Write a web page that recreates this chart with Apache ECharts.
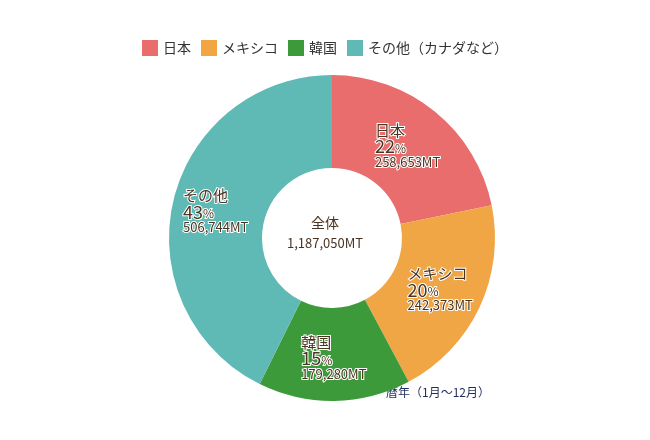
<!DOCTYPE html>
<html>
<head>
<meta charset="utf-8">
<script src="https://cdn.jsdelivr.net/npm/echarts@6/dist/echarts.min.js"></script>
<style>html,body{margin:0;background:#fff}#chart{width:650px;height:440px}</style>
</head>
<body>
<div id="chart"></div>
<script>
const names = ["日本", "メキシコ", "韓国", "その他（カナダなど）"];
const shortNames = ["日本", "メキシコ", "韓国", "その他"];
const values = [258653, 242373, 179280, 506744];
const percents = [22, 20, 15, 43];
const totalLabel = "1,187,050MT";
const colors = ["#e96d6d", "#f0a645", "#3d9a3b", "#5fb9b5"];
const ink = "#4a3522";

const chart = echarts.init(document.getElementById("chart"));
const fmt = (v) => v.toLocaleString("en-US") + "MT";

chart.setOption({
  color: colors,
  textStyle: { fontFamily: "Noto Sans CJK JP" },
  legend: {
    top: 35,
    left: "center",
    icon: "rect",
    itemWidth: 16,
    itemHeight: 16,
    itemGap: 10,
    textStyle: { color: "#333", fontSize: 14 },
    data: names,
  },
  graphic: [
    {
      type: "text", left: "center", top: 216,
      style: { text: "全体", fill: ink, fontSize: 14, fontFamily: "Noto Sans CJK JP" },
    },
    {
      type: "text", left: "center", top: 237,
      style: { text: totalLabel, fill: ink, fontSize: 13, fontFamily: "Noto Sans CJK JP" },
    },
    {
      type: "text", left: 386, top: 386,
      style: { text: "暦年（1月～12月）", fill: "#1f2d5c", fontSize: 12, fontFamily: "Noto Sans CJK JP" },
    },
  ],
  series: [
    {
      type: "pie",
      center: [332, 238],
      radius: [70, 163],
      startAngle: 90,
      clockwise: true,
      silent: true,
      label: {
        position: "inside",
        formatter: (p) =>
          `{n|${shortNames[p.dataIndex]}}\n{p|${percents[p.dataIndex]}}{s|%}\n{v|${fmt(p.value)}}`,
        rich: {
          n: { fontSize: 15, color: ink, align: "left", textBorderColor: "#fff", textBorderWidth: 2 },
          p: { fontSize: 18, color: ink, align: "left", textBorderColor: "#fff", textBorderWidth: 2 },
          s: { fontSize: 12, color: ink, align: "left", textBorderColor: "#fff", textBorderWidth: 2, padding: [4, 0, 0, 0] },
          v: { fontSize: 13, color: ink, align: "left", textBorderColor: "#fff", textBorderWidth: 2 },
        },
      },
      labelLine: { show: false },
      data: names.map((n, i) => ({ name: n, value: values[i] })),
    },
  ],
});
</script>
</body>
</html>
